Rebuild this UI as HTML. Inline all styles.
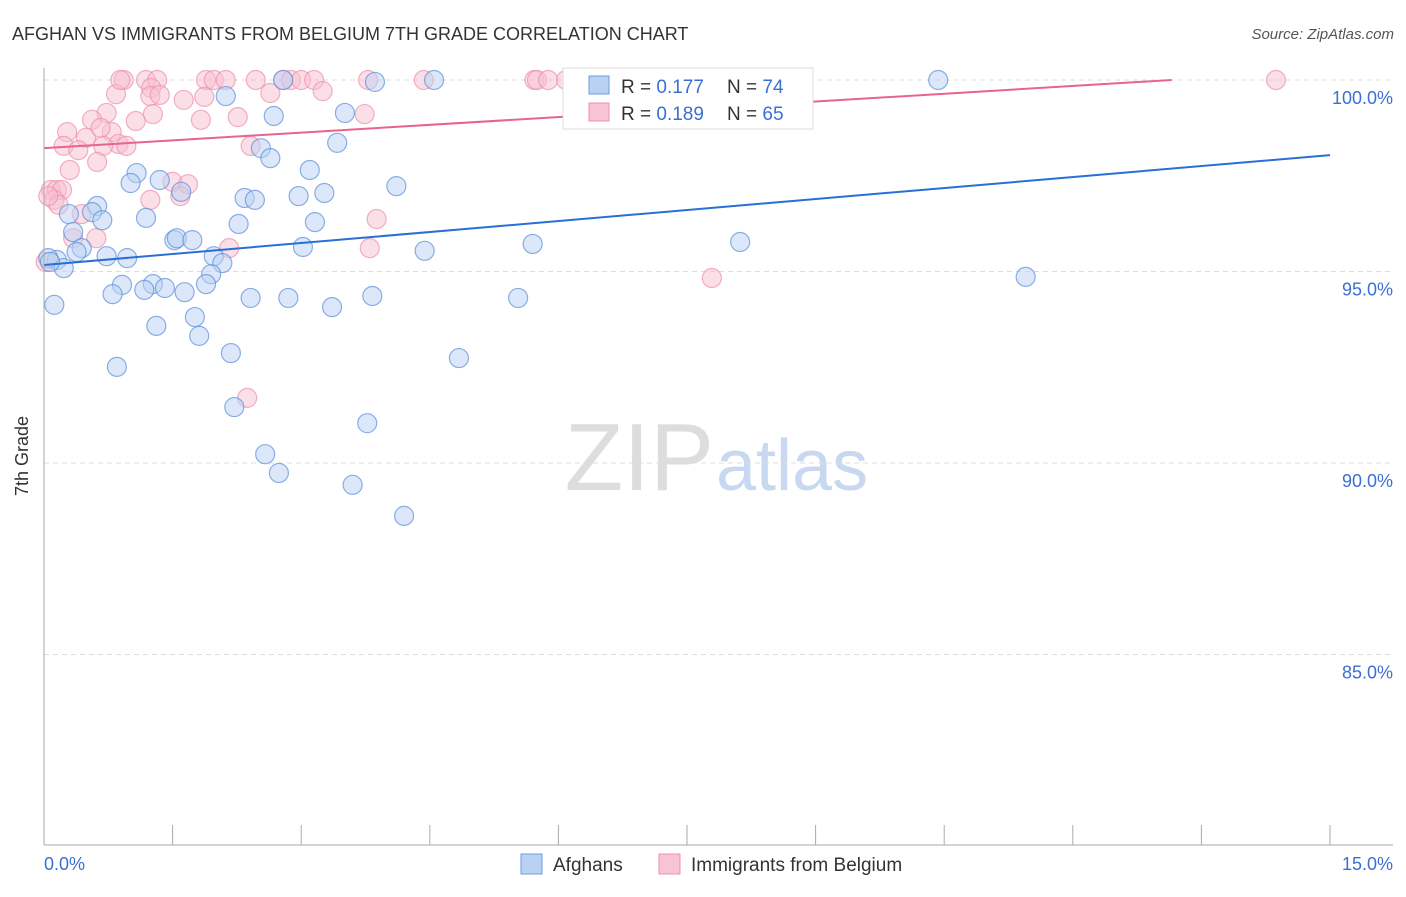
<!DOCTYPE html>
<html><head><meta charset="utf-8">
<style>
body{margin:0;background:#fff;font-family:"Liberation Sans",sans-serif;}
svg text{font-family:"Liberation Sans",sans-serif;}
</style></head>
<body>
<svg id="chart" width="1406" height="892" xmlns="http://www.w3.org/2000/svg">
<text x="12" y="40" font-size="18" fill="#333">AFGHAN VS IMMIGRANTS FROM BELGIUM 7TH GRADE CORRELATION CHART</text>
<text x="1394" y="39" font-size="15" fill="#555" text-anchor="end" font-style="italic">Source: ZipAtlas.com</text>
<text x="714" y="490" font-size="96" fill="#ddd" text-anchor="end" font-family="Liberation Serif">ZIP</text>
<text x="716" y="490" font-size="72" fill="#c8d8f0">atlas</text>
<g id="grid"></g>
<g id="marks"></g>
<line x1="44" y1="68" x2="44" y2="845" stroke="#aaa"/>
<line x1="44" y1="845" x2="1393" y2="845" stroke="#aaa"/>
<text x="28" y="456" font-size="18" fill="#333" text-anchor="middle" transform="rotate(-90 28 456)">7th Grade</text>
<text x="44" y="870" font-size="18" fill="#3b6fd4">0.0%</text>
<text x="1393" y="870" font-size="18" fill="#3b6fd4" text-anchor="end">15.0%</text>
<g>
<rect x="563" y="68" width="250" height="61" fill="#fff" stroke="#ddd"/>
<rect x="589" y="76" width="20" height="18" fill="#b9d1f3" stroke="#6e9be0"/>
<rect x="589" y="103" width="20" height="18" fill="#f8c3d3" stroke="#ee8fac"/>
<text x="621" y="93" font-size="19" fill="#333">R = <tspan fill="#3b6fd4">0.177</tspan></text>
<text x="727" y="93" font-size="19" fill="#333">N = <tspan fill="#3b6fd4">74</tspan></text>
<text x="621" y="120" font-size="19" fill="#333">R = <tspan fill="#3b6fd4">0.189</tspan></text>
<text x="727" y="120" font-size="19" fill="#333">N = <tspan fill="#3b6fd4">65</tspan></text>
</g>
<g>
<rect x="521" y="854" width="21" height="20" fill="#b9d1f3" stroke="#6e9be0"/>
<text x="553" y="871" font-size="19" fill="#333">Afghans</text>
<rect x="659" y="854" width="21" height="20" fill="#f8c3d3" stroke="#ee8fac"/>
<text x="691" y="871" font-size="19" fill="#333">Immigrants from Belgium</text>
</g>
</svg>
<script>
const yTicks=[100,95,90,85];
const yTickLabels=["100.0%","95.0%","90.0%","85.0%"];
const xTicks=[0,1.5,3,4.5,6,7.5,9,10.5,12,13.5,15];
const bluePx=[[283,80],[434,80],[632,80],[798,80],[938,80],[375,82],[226,96],[274,116],[345,113],[337,143],[261,148],[270,158],[310,170],[137,173],[131,183],[160,180],[181,192],[396,186],[324,193],[299,196],[245,198],[255,200],[97,206],[92,212],[69,214],[146,218],[102,220],[239,224],[315,222],[73,232],[82,248],[174,240],[177,238],[192,240],[303,247],[425,251],[533,244],[740,242],[1026,277],[77,252],[107,256],[127,258],[214,256],[222,263],[57,260],[64,268],[211,274],[153,284],[122,285],[144,290],[165,288],[185,292],[206,284],[113,294],[251,298],[288,298],[372,296],[518,298],[54,305],[332,307],[195,317],[156,326],[199,336],[231,353],[459,358],[117,367],[234,407],[367,423],[265,454],[279,473],[353,485],[404,516],[48,258],[50,262]];
const pinkPx=[[124,80],[146,80],[157,80],[206,80],[214,80],[226,80],[256,80],[283,80],[291,80],[301,80],[314,80],[368,80],[424,80],[534,80],[537,80],[548,80],[566,80],[1276,80],[151,88],[116,94],[150,96],[160,95],[270,93],[323,91],[184,100],[204,97],[107,113],[92,120],[153,114],[136,121],[238,117],[365,114],[201,120],[67,132],[112,132],[86,138],[101,128],[119,144],[64,146],[78,150],[103,146],[126,146],[251,146],[70,170],[97,162],[51,190],[57,190],[62,190],[54,200],[173,182],[188,184],[180,196],[82,214],[377,219],[96,238],[73,238],[229,248],[370,248],[712,278],[247,398],[46,262],[59,205],[150,200],[120,80],[48,196]];
const afghanX=bluePx.map(p=>+((p[0]-44)*15/1286).toFixed(2));
const afghanY=bluePx.map(p=>+(100-(p[1]-80)/38.3).toFixed(2));
const belgiumX=pinkPx.map(p=>+((p[0]-44)*15/1286).toFixed(2));
const belgiumY=pinkPx.map(p=>+(100-(p[1]-80)/38.3).toFixed(2));
const afghanTrend=[95.17,98.04];
const belgiumTrend=[98.22,100.25];

const X=v=>44+v/15*1286;
const Y=v=>80+(100-v)*38.3;
const NS="http://www.w3.org/2000/svg";
const grid=document.getElementById('grid'),marks=document.getElementById('marks');
function mk(t,a,p){const e=document.createElementNS(NS,t);for(const k in a)e.setAttribute(k,a[k]);p.appendChild(e);return e;}
yTicks.forEach((v,i)=>{
 const l=mk('line',{x1:44,x2:1393,y1:Y(v),y2:Y(v),stroke:'#ddd','stroke-dasharray':'5,4'},grid);
 
 
 const t=mk('text',{x:1393,y:Y(v)+24,'font-size':18,fill:'#3b6fd4','text-anchor':'end'},grid);
 t.textContent=yTickLabels[i];
 
 
});
xTicks.forEach(v=>{
 const l=mk('line',{x1:X(v),x2:X(v),y1:825,y2:845,stroke:'#aaa'},grid);
 
 
});
function pts(xs,ys,fill,stroke,name){
 xs.forEach((x,i)=>{
  const c=mk('circle',{cx:X(x),cy:Y(ys[i]),r:9.5,fill:fill,'fill-opacity':0.5,stroke:stroke,'stroke-opacity':0.7,'stroke-width':1.2},marks);
  
  
 });
}
pts(belgiumX,belgiumY,'#f8bfd0','#ee8fac','belgium-point');
pts(afghanX,afghanY,'#b9d1f3','#5b8fdc','afghan-point');
function trend(tr,color,name){
 let x2=15,y2=tr[1];
 if(y2>100){x2=15*(100-tr[0])/(tr[1]-tr[0]);y2=100;}
 const l=mk('line',{x1:X(0),y1:Y(tr[0]),x2:X(x2),y2:Y(y2),stroke:color,'stroke-width':2},marks);
 
 
}
trend(afghanTrend,'#2a6fd6','afghan-trend-line');
trend(belgiumTrend,'#e8648f','belgium-trend-line');
</script>
</body></html>
